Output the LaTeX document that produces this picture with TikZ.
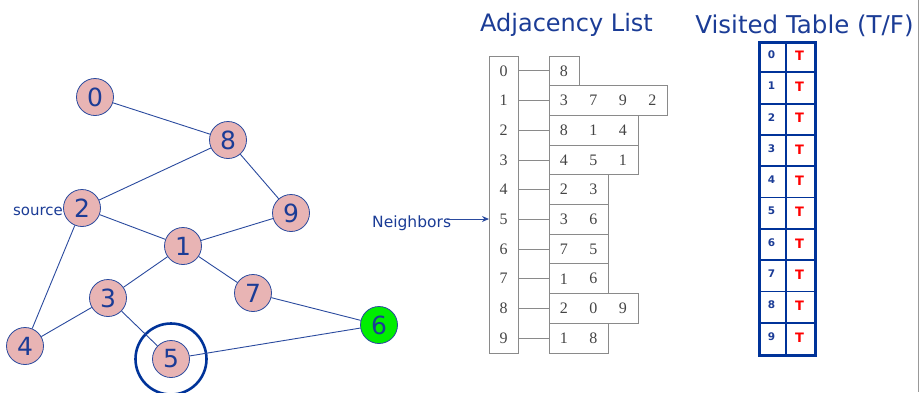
\documentclass[tikz,border=0pt]{standalone}
\usepackage{fontspec}
\setmainfont{DejaVu Sans}
\newfontfamily\serifnum{Liberation Serif}
\usetikzlibrary{arrows.meta,calc}
\definecolor{inkblue}{HTML}{1B3C96}
\definecolor{edgeblue}{HTML}{2A4A9E}
\definecolor{vpink}{HTML}{E8B4B4}
\definecolor{vgreen}{HTML}{00EE00}
\definecolor{tblue}{HTML}{003399}
\definecolor{boxgray}{HTML}{8A8A8A}
\definecolor{numgray}{HTML}{444444}
\tikzset{
  vertex/.style={circle, draw=edgeblue, line width=0.8pt, fill=vpink,
    minimum size=37pt, inner sep=0pt, text=inkblue, font=\fontsize{25}{25}\selectfont},
  edge/.style={draw=edgeblue, line width=0.9pt},
  title/.style={text=inkblue, inner sep=0pt},
  adjnum/.style={text=numgray, font=\serifnum\fontsize{16}{16}\selectfont, inner sep=0pt},
  listbox/.style={draw=boxgray, line width=0.9pt, minimum height=29.7pt, inner sep=0pt, anchor=west},
  idxcell/.style={minimum width=29pt, minimum height=29.7pt, inner sep=0pt},
  vnum/.style={text=inkblue, font=\bfseries\fontsize{10.5}{10.5}\selectfont, inner sep=0pt},
  vflag/.style={text=red, font=\bfseries\fontsize{13}{13}\selectfont, inner sep=0pt},
}
\begin{document}
\begin{tikzpicture}[x=1pt, y=-1pt]
\useasboundingbox (0,0) rectangle (919,392);
\draw[gray!80, line width=1pt] (918.3,0) -- (918.3,392);

% ---------- graph ----------
\node[vertex] (n0) at (95,97) {0};
\node[vertex] (n8) at (228,140) {8};
\node[vertex] (n2) at (82,208) {2};
\node[vertex] (n9) at (291,213) {9};
\node[vertex] (n1) at (183,246) {1};
\node[vertex] (n7) at (253,293) {7};
\node[vertex] (n3) at (108,298) {3};
\node[vertex] (n4) at (25,346) {4};
\node[vertex] (n5) at (171,359) {5};
\node[vertex, fill=vgreen] (n6) at (379,325) {6};
\node[circle, draw=tblue, line width=2.6pt, minimum size=71pt, inner sep=0pt] (ring) at (n5) {};

\path[edge] (n0) -- (n8);
\path[edge] (n8) -- (n2);
\path[edge] (n8) -- (n9);
\path[edge] (n2) -- (n1);
\path[edge] (n9) -- (n1);
\path[edge] (n2) -- (n4);
\path[edge] (n1) -- (n3);
\path[edge] (n1) -- (n7);
\path[edge] (n3) -- (n4);
\path[edge] (n3) -- (n5);
\path[edge] (n7) -- (n6);
\path[edge] (n5) -- (n6);

\node[title, anchor=east, font=\fontsize{15}{15}\selectfont] (src) at ($(n2.west)+(0,3)$) {source};

% ---------- adjacency list ----------
\node[title, font=\fontsize{24}{24}\selectfont] (adjt) at (566.5,25) {Adjacency List};
\node[draw=boxgray, line width=0.9pt, minimum width=29pt, minimum height=297pt, inner sep=0pt, anchor=north west] (col) at (489,56) {};

\foreach \k/\lst/\n in {0/{8}/1, 1/{3,7,9,2}/4, 2/{8,1,4}/3, 3/{4,5,1}/3, 4/{2,3}/2,
                        5/{3,6}/2, 6/{7,5}/2, 7/{1,6}/2, 8/{2,0,9}/3, 9/{1,8}/2} {
  \pgfmathsetmacro\yc{70.85+29.7*\k}
  \node[idxcell] (L\k) at (503.5,\yc) {};
  \node[adjnum] at (L\k) {\k};
  \node[listbox, minimum width=29.5*\n pt] (R\k) at (549,\yc) {};
  \foreach \v [count=\j from 0] in \lst {
    \node[adjnum] at ($(R\k.west)+(14.75+29.5*\j,0)$) {\v};
  }
  \draw[boxgray, line width=0.9pt] (L\k.east) -- (R\k.west);
}

\node[title, anchor=west, font=\fontsize{15.5}{15.5}\selectfont] (nb) at (372,223) {Neighbors};
\coordinate (nbstart) at (447,219);
\draw[edgeblue, line width=1pt, -{Stealth[length=7pt,width=6pt]}] (nbstart) -- (col.west |- nbstart);

% ---------- visited table ----------
\node[title, font=\fontsize{24.5}{24.5}\selectfont] (vist) at (804.5,26) {Visited Table (T/F)};
\node[draw=tblue, line width=2.8pt, minimum width=56pt, minimum height=313pt, inner sep=0pt, anchor=north west] (vtab) at (758,41) {};
\draw[tblue, line width=1.8pt] (786,41) -- (786,354);
\foreach \k in {0,...,9} {
  \pgfmathsetmacro\yc{56.65+31.3*\k}
  \node[vnum] (v\k) at (771.5,\yc-2) {\k};
  \node[vflag] (t\k) at (799.5,\yc-1) {T};
}
\foreach \k in {1,...,9} {
  \pgfmathsetmacro\yl{41+31.3*\k}
  \draw[tblue, line width=1.8pt] (758,\yl) -- (814,\yl);
}
\end{tikzpicture}
\end{document}
